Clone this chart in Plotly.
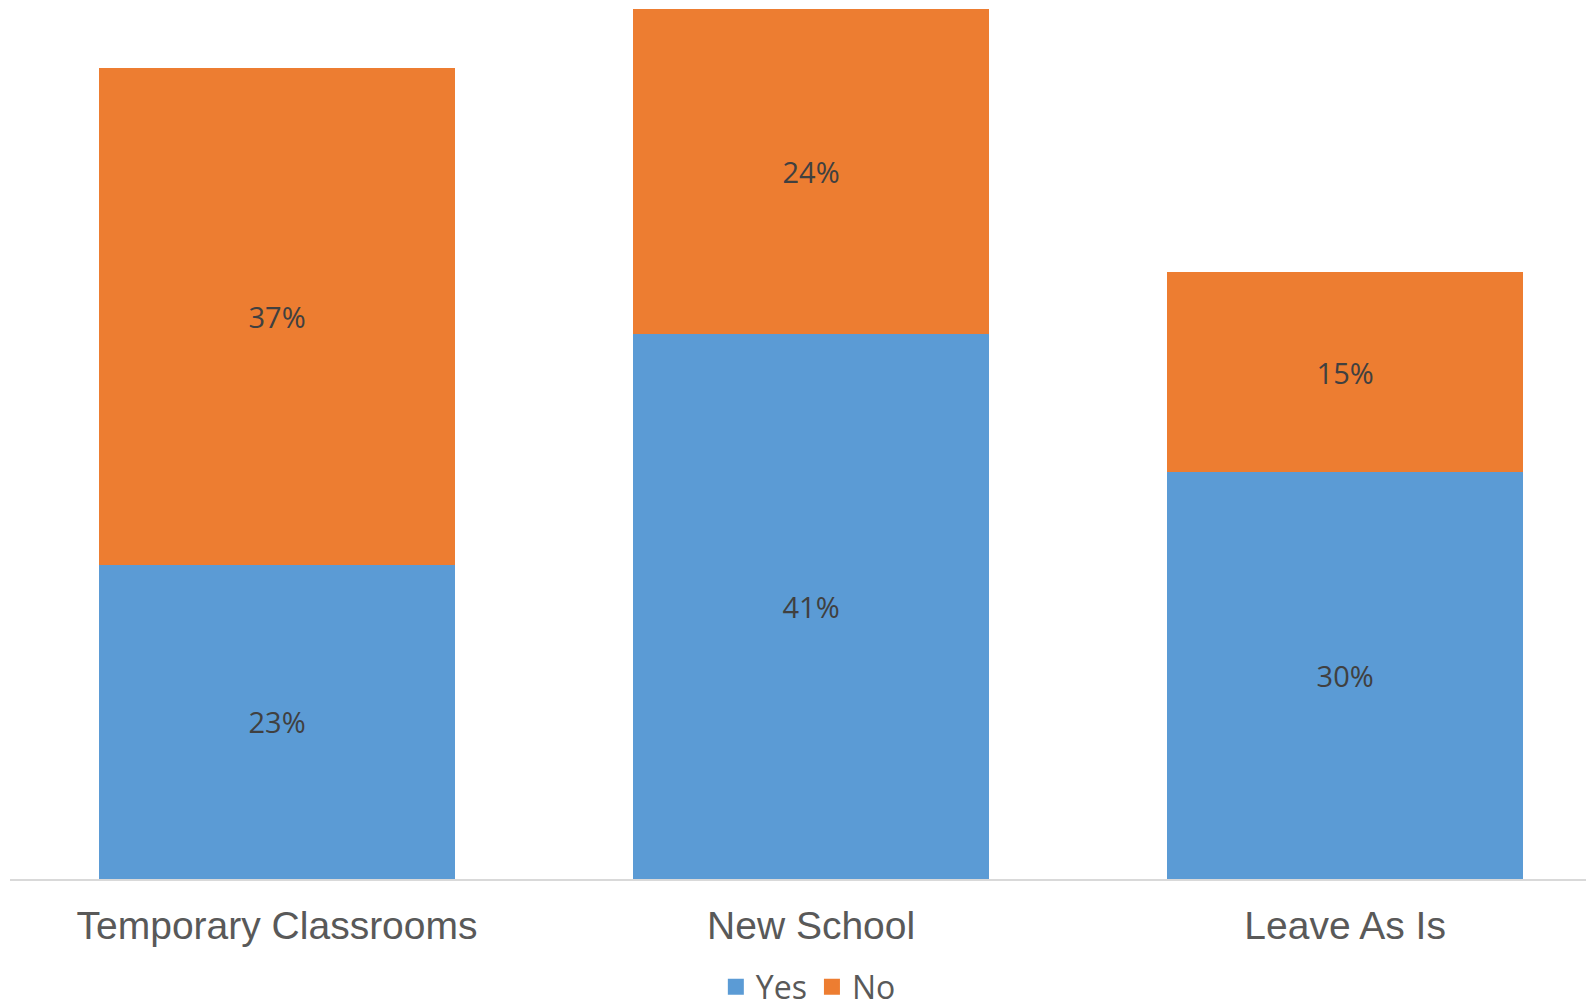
"""
Stacked bar chart: Yes / No responses for three school options.
"""

import plotly.graph_objects as go

# ---- data ----
categories = ["Temporary Classrooms", "New School", "Leave As Is"]
yes_values = [23.4, 40.6, 30.3]
no_values = [37.0, 24.2, 14.9]

YES_COLOR = "#5B9BD5"
NO_COLOR = "#ED7D31"

fig = go.Figure()

fig.add_trace(go.Bar(
    x=categories, y=yes_values, name="Yes",
    marker=dict(color=YES_COLOR, line=dict(width=0)),
    texttemplate="%{y:.0f}%", textposition="inside", insidetextanchor="middle",
    textfont=dict(family="Open Sans", size=29, color="#404040"),
    showlegend=False,
))
fig.add_trace(go.Bar(
    x=categories, y=no_values, name="No",
    marker=dict(color=NO_COLOR, line=dict(width=0)),
    texttemplate="%{y:.0f}%", textposition="inside", insidetextanchor="middle",
    textfont=dict(family="Open Sans", size=29, color="#404040"),
    showlegend=False,
))

# legend entries (square markers, bigger than the default bar swatch)
for name, color in [("Yes", YES_COLOR), ("No", NO_COLOR)]:
    fig.add_trace(go.Scatter(
        x=[None], y=[None], mode="markers", name=name,
        marker=dict(symbol="square", size=21, color=color),
    ))

# the page body adds an 8px margin, so the figure is 8px smaller
fig.update_layout(
    barmode="stack",
    bargap=0.334,
    width=1586, height=999,
    margin=dict(l=2, r=0, t=0, b=128),
    plot_bgcolor="white",
    paper_bgcolor="white",
    legend=dict(
        orientation="h",
        traceorder="normal",
        x=0.504, xanchor="center",
        yref="container", y=0.02, yanchor="middle",
        font=dict(family="Open Sans", size=32, color="#595959"),
        itemclick=False,
    ),
    xaxis=dict(
        range=[-0.5, 2.466],
        showline=True, linecolor="#D9D9D9", linewidth=1.5,
        ticks="outside", ticklen=11, tickcolor="rgba(0,0,0,0)",
        tickfont=dict(family="Liberation Sans", size=39, color="#595959"),
        showgrid=False, zeroline=False,
    ),
    yaxis=dict(
        range=[0, 64.9],
        visible=False, showgrid=False, zeroline=False,
    ),
)

fig.write_html("out.html")
